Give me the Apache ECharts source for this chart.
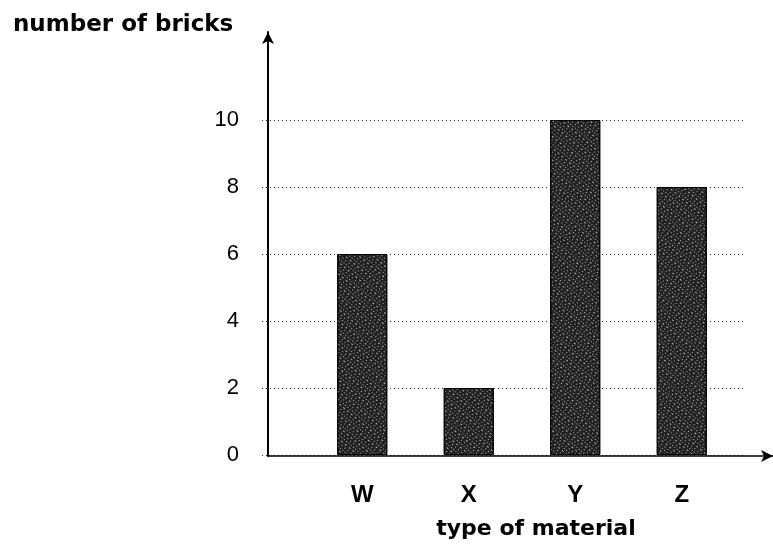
<!DOCTYPE html>
<html><head><meta charset="utf-8">
<script src="https://cdn.jsdelivr.net/npm/echarts@6/dist/echarts.min.js"></script>
<style>html,body{margin:0;padding:0;background:#fff}#c{width:773px;height:544px}</style>
</head><body><div id="c"></div>
<script>
const categories = ['W', 'X', 'Y', 'Z'];
const bricks = [6, 2, 10, 8];
const yTicks = [0, 2, 4, 6, 8, 10];
const yTitle = 'number of bricks';
const xTitle = 'type of material';

const chart = echarts.init(document.getElementById('c'));
const arial = 'Liberation Sans, Arial, sans-serif';
const wide = 'DejaVu Sans, Verdana, sans-serif';
chart.setOption({
  animation: false,
  backgroundColor: '#fff',
  title: {text: yTitle, left: 8, top: 9, textStyle: {fontFamily: wide, fontSize: 23, fontWeight: 'bold', color: '#000'}},
  graphic: [{type: 'text', x: 536, y: 529, style: {text: xTitle, align: 'center', verticalAlign: 'middle', fontFamily: wide, fontSize: 22, fontWeight: 'bold', fill: '#000'}}],
  grid: [
    {left: 262, right: 29, top: 120, bottom: 89},
    {left: 268, right: 0, top: 32, bottom: 88},
    {left: 309, right: 38, top: 120, bottom: 89}
  ],
  xAxis: [
    {gridIndex: 0, type: 'value', show: false, min: 0, max: 1},
    {gridIndex: 1, type: 'value', min: 0, max: 1, axisLine: {show: true, symbol: ['none', 'arrow'], symbolSize: [9, 12], lineStyle: {color: '#000', width: 1.5}}, axisTick: {show: false}, axisLabel: {show: false}, splitLine: {show: false}},
    {gridIndex: 2, type: 'category', data: categories, axisLine: {show: false}, axisTick: {show: false},
      axisLabel: {margin: 28, fontFamily: arial, fontSize: 24, fontWeight: 'bold', color: '#000'}}
  ],
  yAxis: [
    {gridIndex: 0, type: 'value', min: yTicks[0], max: yTicks[yTicks.length - 1], interval: 2,
      axisLine: {show: false}, axisTick: {show: false},
      axisLabel: {margin: 23, fontFamily: arial, fontSize: 22, color: '#000'},
      splitLine: {show: true, lineStyle: {color: '#333', type: [1, 3], width: 1}}},
    {gridIndex: 1, type: 'value', min: 0, max: 1, axisLine: {show: true, symbol: ['none', 'arrow'], symbolSize: [9, 12], lineStyle: {color: '#000', width: 2}}, axisTick: {show: false}, axisLabel: {show: false}, splitLine: {show: false}},
    {gridIndex: 2, type: 'value', min: 0, max: 10, show: false}
  ],
  series: [{
    type: 'bar', xAxisIndex: 2, yAxisIndex: 2, data: bricks, barWidth: 50,
    itemStyle: {color: '#222', borderColor: '#000', borderWidth: 1,
      decal: {symbol: 'rect', symbolSize: 1, color: 'rgba(255,255,255,0.65)', dashArrayX: [[1, 2], [2, 3], [1, 3]], dashArrayY: [1, 2], rotation: 0.7}}
  }]
});
</script></body></html>
